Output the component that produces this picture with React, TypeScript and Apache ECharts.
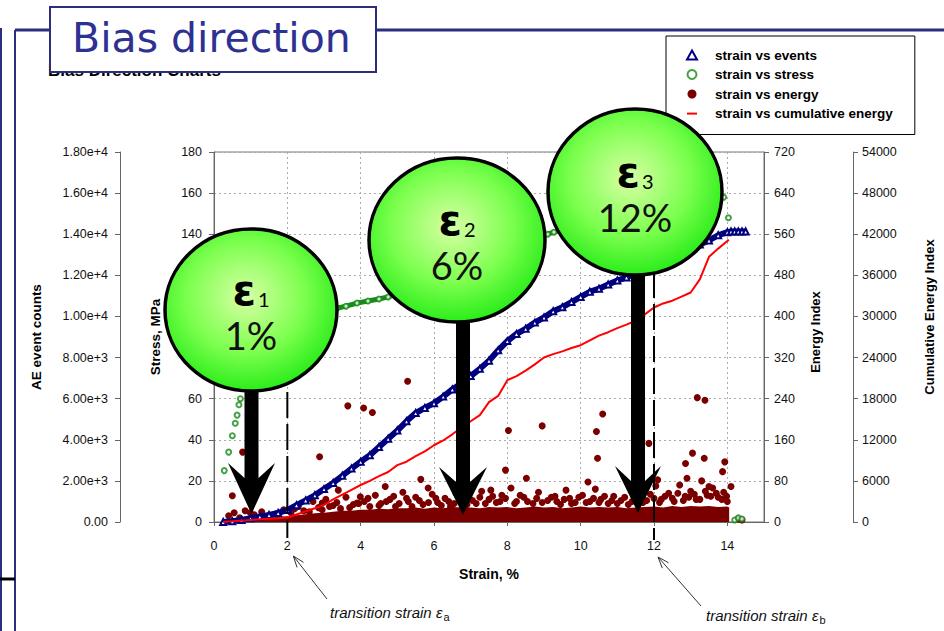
import React, { useEffect, useRef } from 'react';
import * as echarts from 'echarts';

// ---------- data ----------
const aeTickLabels = ['0.00', '2.00e+3', '4.00e+3', '6.00e+3', '8.00e+3', '1.00e+4', '1.20e+4', '1.40e+4', '1.60e+4', '1.80e+4'];

const eventsStrain = [0.25, 0.5, 0.75, 1, 1.25, 1.5, 1.75, 2, 2.25, 2.5, 2.75, 3, 3.25, 3.5, 3.75, 4, 4.25, 4.5, 4.75, 5, 5.25, 5.5, 5.75, 6, 6.25, 6.5, 6.75, 7, 7.25, 7.5, 7.75, 8, 8.25, 8.5, 8.75, 9, 9.25, 9.5, 9.75, 10, 10.25, 10.5, 10.75, 11, 11.25, 11.5, 11.75, 12, 12.25, 12.5, 12.75, 13, 13.25, 13.5, 13.75, 14, 14.1, 14.2, 14.3, 14.4, 14.5];
const eventCounts = [0, 40, 100, 180, 260, 340, 440, 580, 820, 1050, 1300, 1600, 1900, 2250, 2600, 2930, 3250, 3650, 4050, 4450, 4900, 5300, 5550, 5780, 6100, 6450, 6750, 7100, 7450, 7850, 8350, 8800, 9150, 9400, 9700, 9950, 10250, 10450, 10700, 10950, 11200, 11350, 11550, 11750, 11900, 12100, 12300, 12500, 12700, 12900, 13100, 13300, 13500, 13700, 13950, 14100, 14130, 14130, 14130, 14130, 14130];

const stressStrain = [0.28, 0.4, 0.5, 0.58, 0.63, 0.68, 0.72, 0.85, 1.0, 1.25, 1.5, 1.75, 2.0, 2.5, 3.0, 3.35, 3.6, 3.9, 4.2, 4.5, 4.75, 5.0, 5.5, 6.0, 6.5, 7.0, 7.5, 8.0, 8.5, 8.97, 9.1, 9.27, 9.6, 10.0, 10.5, 11.0, 11.5, 12.0, 12.5, 13.0, 13.5, 13.9, 14.03, 14.2, 14.3, 14.4];
const stressMPa = [25, 34, 42, 48, 52, 57, 60, 72, 82, 90, 95, 98, 100, 102, 103.5, 104, 105, 106.5, 107.5, 108.5, 109.5, 111, 114, 118, 122, 126, 130, 133, 136, 139, 140, 141, 142.5, 144, 146, 148, 150, 151.5, 153, 155, 156.5, 158, 148, 1, 2, 1.5];

const cumStrain = [0.25, 0.5, 0.75, 1, 1.25, 1.5, 1.75, 2, 2.25, 2.5, 2.75, 3, 3.25, 3.5, 3.75, 4, 4.25, 4.5, 4.75, 5, 5.25, 5.5, 5.75, 6, 6.25, 6.5, 6.75, 7, 7.25, 7.5, 7.75, 8, 8.25, 8.5, 8.75, 9, 9.25, 9.5, 9.75, 10, 10.25, 10.5, 10.75, 11, 11.25, 11.5, 11.75, 12, 12.25, 12.5, 12.75, 13, 13.25, 13.5, 13.75, 14, 14.04];
const cumEnergy = [0, 100, 200, 300, 400, 480, 560, 650, 1100, 1550, 2000, 2500, 3300, 4000, 4700, 5400, 6000, 6700, 7300, 8300, 8800, 9600, 10300, 11200, 11900, 12800, 13800, 14700, 15600, 17500, 18400, 20700, 21300, 22100, 23000, 24000, 24500, 24900, 25400, 25800, 26500, 27200, 27700, 28300, 28800, 29400, 30300, 31300, 31900, 32300, 32900, 33500, 35400, 38700, 39900, 41000, 41200];

const floorStrain = [0.25, 0.5, 0.75, 1, 1.25, 1.5, 1.75, 2, 2.25, 2.5, 2.75, 3, 3.25, 3.5, 3.75, 4, 4.25, 4.5, 4.75, 5, 5.25, 5.5, 5.75, 6, 6.25, 6.5, 6.75, 7, 7.25, 7.5, 7.75, 8, 8.25, 8.5, 8.75, 9, 9.25, 9.5, 9.75, 10, 10.25, 10.5, 10.75, 11, 11.25, 11.5, 11.75, 12, 12.25, 12.5, 12.75, 13, 13.25, 13.5, 13.75, 14, 14.05];
const floorEnergy = [2, 6, 8, 8, 9, 9, 10, 11, 13, 15, 17, 18, 20, 22, 22, 24, 24, 26, 25, 27, 27, 28, 26, 28, 27, 29, 28, 28, 27, 29, 28, 29, 27, 28, 30, 28, 29, 27, 28, 30, 28, 29, 28, 29, 27, 28, 29, 30, 28, 31, 29, 31, 30, 31, 29, 30, 28];

const energyPoints = [
  [0.4, 12], [0.55, 18], [0.7, 8], [0.85, 22], [1.1, 14], [1.3, 20], [1.5, 10], [1.7, 16], [1.9, 24],
  [2.1, 18], [2.3, 30], [2.45, 22], [2.7, 40], [2.85, 28], [3.05, 44], [3.25, 32], [3.45, 26], [3.6, 48], [3.8, 34], [4.1, 40], [4.25, 30],
  [4.4, 52], [4.55, 36], [4.8, 44], [4.95, 30], [5.15, 58], [5.3, 40], [5.5, 48], [5.7, 34], [5.95, 54], [6.1, 38],
  [6.3, 46], [6.45, 30], [6.6, 56], [6.8, 40], [6.95, 50], [7.15, 36], [7.3, 60], [7.5, 44], [7.7, 38], [7.85, 52],
  [8.1, 66], [8.25, 40], [8.45, 48], [8.7, 36], [8.85, 58], [9.1, 42], [9.3, 50], [9.45, 34], [9.7, 46], [9.85, 38],
  [10.05, 52], [10.25, 40], [10.4, 64], [10.55, 44], [10.75, 36], [10.9, 50], [11.1, 42], [11.3, 34], [11.5, 46], [11.7, 38], [11.9, 54],
  [12.05, 70], [12.2, 44], [12.4, 56], [12.55, 40], [12.7, 72], [12.85, 50], [13.0, 60], [13.15, 44], [13.3, 80], [13.45, 52], [13.6, 66], [13.75, 48], [13.9, 58], [14.0, 40],
  [14.3, 6], [14.4, 4],
  [2.2, 26], [2.6, 20], [2.95, 24], [3.15, 30], [3.35, 38], [3.7, 28], [3.95, 36], [4.2, 46], [4.5, 32], [4.7, 40], [4.9, 50],
  [5.05, 36], [5.25, 46], [5.4, 30], [5.6, 42], [5.85, 38], [6.05, 46], [6.2, 32], [6.4, 40], [6.55, 36], [6.7, 46], [6.9, 34],
  [7.05, 42], [7.25, 48], [7.4, 36], [7.6, 50], [7.8, 40], [7.95, 46], [8.2, 36], [8.35, 52], [8.55, 40], [8.8, 46], [8.95, 38],
  [9.2, 48], [9.35, 40], [9.55, 44], [9.75, 36], [9.95, 48], [10.15, 38], [10.35, 46], [10.5, 38], [10.65, 50], [10.85, 42],
  [11.0, 36], [11.2, 48], [11.4, 40], [11.6, 52], [11.8, 42], [12.0, 46], [12.15, 38], [12.3, 50], [12.5, 46], [12.65, 56],
  [12.8, 42], [12.95, 48], [13.1, 54], [13.25, 44], [13.4, 60], [13.55, 50], [13.7, 56], [13.85, 44], [13.98, 50],
  [0.5, 51], [0.78, 136], [0.99, 18], [2.88, 127], [2.95, 37], [3.39, 62], [3.65, 226], [3.9, 37], [3.99, 49], [4.08, 222], [4.32, 213],
  [4.67, 69], [5.28, 274], [5.64, 83], [5.84, 66], [7.55, 62], [7.95, 101], [8.03, 178], [8.52, 85], [8.95, 187], [9.6, 62], [10.2, 78],
  [10.43, 176], [10.46, 124], [10.6, 210], [11.86, 153], [12.1, 82], [12.86, 114], [12.9, 85], [13.05, 134], [13.18, 242], [13.37, 124],
  [13.39, 237], [13.5, 69], [13.87, 98], [13.93, 117], [14.1, 69],
];

const bubbles = [
  { sub: '1', pct: '1%' },
  { sub: '2', pct: '6%' },
  { sub: '3', pct: '12%' },
];

// ---------- styles ----------
const FONT = '"Liberation Sans", Arial, Helvetica, sans-serif';
const NAVY = '#2B2E7E';
const GREEN = '#178a17';
const BLUE = '#00007f';
const MAROON = '#7a0000';
const RED = '#ff0000';

const nameStyle = { fontFamily: FONT, fontWeight: 'bold' as const, fontSize: 13, color: '#000' };
const labelStyle = { fontFamily: FONT, fontSize: 12.5, color: '#111' };
const axisLineGray = { show: true, lineStyle: { color: '#666', width: 1 } };
const tickGray = { show: true, length: 5, lineStyle: { color: '#666' } };

function arrowHead(tail: number[], tip: number[], len: number, ang: number) {
  const dx = tail[0] - tip[0];
  const dy = tail[1] - tip[1];
  const d = Math.hypot(dx, dy);
  const ux = dx / d;
  const uy = dy / d;
  const rot = (a: number) => [tip[0] + len * (ux * Math.cos(a) - uy * Math.sin(a)), tip[1] + len * (ux * Math.sin(a) + uy * Math.cos(a))];
  return [rot(ang), tip, rot(-ang)];
}

function buildGraphics(x2: number, x12: number) {
  const els: any[] = [];
  // frame lines
  els.push({ type: 'line', z: 50, shape: { x1: 15, y1: 30, x2: 944, y2: 30 }, style: { stroke: NAVY, lineWidth: 3 } });
  els.push({ type: 'line', z: 50, shape: { x1: 15, y1: 30, x2: 15, y2: 631 }, style: { stroke: NAVY, lineWidth: 2 } });
  els.push({ type: 'line', z: 50, shape: { x1: 1, y1: 28, x2: 1, y2: 631 }, style: { stroke: NAVY, lineWidth: 2 } });
  els.push({ type: 'line', z: 50, shape: { x1: 0, y1: 579, x2: 15, y2: 579 }, style: { stroke: '#000', lineWidth: 3 } });
  // hidden sub-title
  els.push({ type: 'text', z: 51, style: { text: 'Bias Direction Charts', x: 48, y: 70, fill: '#000', font: 'bold 17px ' + FONT, textAlign: 'left', textVerticalAlign: 'middle', align: 'left', verticalAlign: 'middle' } });
  // title box
  els.push({ type: 'rect', z: 60, shape: { x: 50, y: 7, width: 326, height: 65 }, style: { fill: '#fff', stroke: NAVY, lineWidth: 2 } });
  els.push({ type: 'text', z: 61, style: { text: 'Bias direction', x: 72, y: 38, fill: '#2E3192', font: '41px "DejaVu Sans", Verdana, sans-serif', textAlign: 'left', textVerticalAlign: 'middle', align: 'left', verticalAlign: 'middle' } });

  // dashed transition lines
  els.push({ type: 'line', z: 70, shape: { x1: x2, y1: 392, x2: x2, y2: 538 }, style: { stroke: '#000', lineWidth: 2, lineDash: [26, 6] } });
  els.push({ type: 'line', z: 70, shape: { x1: x12, y1: 272, x2: x12, y2: 540 }, style: { stroke: '#000', lineWidth: 2, lineDash: [26, 6] } });

  // big arrows
  const arrows = [
    { cx: 251.5, top: 380, wingY: 463, notch: 478, tip: 514, w: 23.5 },
    { cx: 463, top: 310, wingY: 467, notch: 482, tip: 515, w: 24 },
    { cx: 638, top: 260, wingY: 466, notch: 481, tip: 513, w: 23 },
  ];
  arrows.forEach((a) => {
    const h = 7;
    els.push({
      type: 'polygon', z: 80,
      shape: { points: [[a.cx - h, a.top], [a.cx - h, a.notch], [a.cx - a.w, a.wingY], [a.cx, a.tip], [a.cx + a.w, a.wingY], [a.cx + h, a.notch], [a.cx + h, a.top]] },
      style: { fill: '#000' },
    });
  });

  // bubbles
  const circles = [
    { cx: 251, cy: 310, rx: 86, ry: 81 },
    { cx: 457, cy: 240, rx: 88, ry: 82 },
    { cx: 635, cy: 192, rx: 87, ry: 83 },
  ];
  circles.forEach((c, i) => {
    els.push({
      type: 'ellipse', z: 90,
      shape: { cx: c.cx, cy: c.cy, rx: c.rx, ry: c.ry },
      style: {
        fill: { type: 'radial', x: 0.47, y: 0.42, r: 0.62, colorStops: [{ offset: 0, color: '#d9ffa6' }, { offset: 0.55, color: '#7cff4e' }, { offset: 1, color: '#1eea12' }] },
        stroke: '#000', lineWidth: 3.5,
      },
    });
    els.push({
      type: 'text', z: 91,
      style: {
        text: '{e|ε}{s|' + bubbles[i].sub + '}', x: c.cx, y: c.cy - 20, fill: '#000',
        textAlign: 'center', textVerticalAlign: 'middle', align: 'center', verticalAlign: 'middle',
        rich: {
          e: { fontSize: 42, fontWeight: 'bold', fontFamily: '"DejaVu Sans", sans-serif', fill: '#000', color: '#000' },
          s: { fontSize: 20, fontFamily: '"Lato", sans-serif', padding: [18, 0, 0, 2], fill: '#000', color: '#000' },
        },
      },
    });
    els.push({
      type: 'text', z: 91,
      style: { text: bubbles[i].pct, x: c.cx, y: c.cy + 25, fill: '#111', font: '38px Lato, "Open Sans", sans-serif', textAlign: 'center', textVerticalAlign: 'middle', align: 'center', verticalAlign: 'middle' },
    });
  });

  // transition annotations
  const notes = [
    { tail: [327, 599], tip: [x2 + 6, 556], tx: 330, ty: 612, sub: 'a' },
    { tail: [701, 606], tip: [x12 + 4, 557], tx: 706, ty: 615, sub: 'b' },
  ];
  notes.forEach((n) => {
    els.push({ type: 'line', z: 70, shape: { x1: n.tail[0], y1: n.tail[1], x2: n.tip[0], y2: n.tip[1] }, style: { stroke: '#333', lineWidth: 1 } });
    els.push({ type: 'polyline', z: 70, shape: { points: arrowHead(n.tail, n.tip, 12, 0.35) }, style: { stroke: '#333', lineWidth: 1, fill: null } });
    els.push({
      type: 'text', z: 70,
      style: {
        text: '{m|transition strain ε}{s|' + n.sub + '}', x: n.tx, y: n.ty, fill: '#111',
        textAlign: 'left', textVerticalAlign: 'middle', align: 'left', verticalAlign: 'middle',
        rich: {
          m: { fontSize: 15, fontStyle: 'italic', fontFamily: FONT, fill: '#111', color: '#111' },
          s: { fontSize: 11, fontFamily: FONT, padding: [9, 0, 0, 1], fill: '#111', color: '#111' },
        },
      },
    });
  });
  return els;
}

export default function App() {
  const ref = useRef<HTMLDivElement>(null);

  useEffect(() => {
    if (!ref.current) return;
    const chart = echarts.init(ref.current, null, { renderer: 'svg' });

    const option: any = {
      animation: false,
      backgroundColor: '#ffffff',
      grid: { left: 214, right: 172, top: 152, bottom: 109, show: true, borderColor: '#777', borderWidth: 1, backgroundColor: 'transparent' },
      legend: {
        orient: 'vertical', left: 666, top: 36,
        padding: [12, 22, 14, 20], itemGap: 5.5, itemWidth: 10, itemHeight: 9,
        borderColor: '#000', borderWidth: 1, backgroundColor: '#fff',
        selectedMode: false,
        textStyle: { fontFamily: FONT, fontSize: 13.5, fontWeight: 'bold', color: '#000', padding: [0, 0, 0, 13] },
        data: [
          { name: 'strain vs events', icon: 'emptyTriangle' },
          { name: 'strain vs stress', icon: 'emptyCircle', itemStyle: { borderWidth: 1.5 } },
          { name: 'strain vs energy', icon: 'circle' },
          { name: 'strain vs cumulative energy', icon: 'path://M0,0M0,3.6h10v2h-10zM10,9' },
        ],
      },
      xAxis: {
        type: 'value', min: 0, max: 15, interval: 2,
        name: 'Strain, %', nameLocation: 'middle', nameGap: 45,
        nameTextStyle: { ...nameStyle, fontSize: 14 },
        axisLine: axisLineGray, axisTick: { ...tickGray, length: 4 },
        axisLabel: { ...labelStyle, margin: 17, showMaxLabel: false },
        splitLine: { show: true, lineStyle: { type: [2, 3], color: '#aaa', width: 1 } },
      },
      yAxis: [
        {
          type: 'value', min: 0, max: 180, interval: 20, position: 'left',
          name: 'Stress, MPa', nameLocation: 'middle', nameGap: 52, nameTextStyle: { ...nameStyle, fontSize: 13.5 },
          axisLine: axisLineGray, axisTick: tickGray,
          axisLabel: { ...labelStyle, margin: 12 },
          splitLine: { show: true, lineStyle: { type: [2, 3], color: '#aaa', width: 1 } },
        },
        {
          type: 'value', min: 0, max: 18000, interval: 2000, position: 'left', offset: 94,
          name: 'AE event counts', nameLocation: 'middle', nameGap: 77, nameTextStyle: { ...nameStyle, fontSize: 13.5 },
          axisLine: axisLineGray, axisTick: tickGray,
          axisLabel: { ...labelStyle, margin: 12, formatter: (v: number) => aeTickLabels[Math.round(v / 2000)] ?? '' },
          splitLine: { show: false },
        },
        {
          type: 'value', min: 0, max: 720, interval: 80, position: 'right',
          name: 'Energy Index', nameLocation: 'middle', nameGap: 45, nameTextStyle: { ...nameStyle, padding: [0, 0, 0, 10] },
          axisLine: axisLineGray, axisTick: tickGray,
          axisLabel: { ...labelStyle, margin: 10 },
          splitLine: { show: false },
        },
        {
          type: 'value', min: 0, max: 54000, interval: 6000, position: 'right', offset: 89,
          name: 'Cumulative Energy Index', nameLocation: 'middle', nameGap: 70, nameTextStyle: { ...nameStyle, padding: [0, 0, 0, 40] },
          axisLine: axisLineGray, axisTick: tickGray,
          axisLabel: { ...labelStyle, margin: 9, formatter: (v: number) => String(v) },
          splitLine: { show: false },
        },
      ],
      series: [
        {
          name: 'energy floor', type: 'line', yAxisIndex: 2, silent: true,
          data: floorStrain.map((x, i) => [x, floorEnergy[i]]),
          symbol: 'none', lineStyle: { width: 0, color: MAROON }, itemStyle: { color: MAROON },
          areaStyle: { color: MAROON, opacity: 1 }, z: 2,
        },
        {
          name: 'strain vs energy', type: 'scatter', yAxisIndex: 2,
          data: energyPoints, symbol: 'circle', symbolSize: 7,
          itemStyle: { color: MAROON, opacity: 1 }, z: 3,
        },
        {
          name: 'stress band', type: 'line', yAxisIndex: 0, silent: true,
          data: stressStrain.map((x, i) => [x, stressMPa[i]]).filter((p) => p[0] >= 0.8 && p[0] <= 13.95),
          symbol: 'none', lineStyle: { width: 5, color: GREEN }, itemStyle: { color: GREEN }, z: 4,
        },
        {
          name: 'strain vs stress', type: 'scatter', yAxisIndex: 0,
          data: stressStrain.map((x, i) => [x, stressMPa[i]]),
          symbol: 'emptyCircle', symbolSize: 5,
          itemStyle: { color: GREEN, borderColor: GREEN, borderWidth: 1.2 }, z: 5,
        },
        {
          name: 'strain vs events', type: 'line', yAxisIndex: 1,
          data: eventsStrain.map((x, i) => [x, eventCounts[i]]),
          symbol: 'emptyTriangle', symbolSize: 6, showSymbol: true,
          lineStyle: { width: 6, color: BLUE }, itemStyle: { color: BLUE, borderColor: BLUE, borderWidth: 1 }, z: 6,
        },
        {
          name: 'strain vs cumulative energy', type: 'line', yAxisIndex: 3,
          data: cumStrain.map((x, i) => [x, cumEnergy[i]]),
          symbol: 'none', lineStyle: { width: 2, color: RED }, itemStyle: { color: RED }, z: 7,
        },
      ],
    };

    chart.setOption(option);
    const x2 = chart.convertToPixel({ xAxisIndex: 0 }, 2) as number;
    const x12 = chart.convertToPixel({ xAxisIndex: 0 }, 12) as number;
    chart.setOption({ graphic: { elements: buildGraphics(x2, x12) } });

    return () => chart.dispose();
  }, []);

  return (
    <div
      ref={ref}
      style={{ position: 'fixed', left: 0, top: 0, width: 944, height: 631, background: '#fff' }}
    />
  );
}
